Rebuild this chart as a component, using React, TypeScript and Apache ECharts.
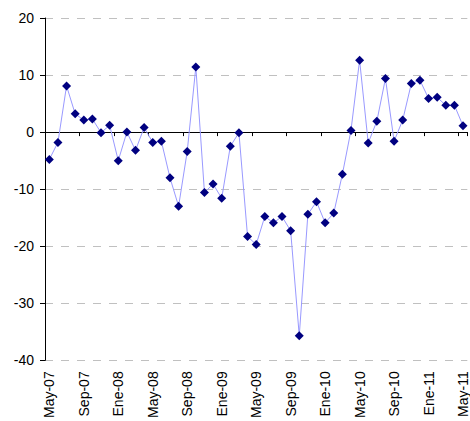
import React, { useEffect, useRef } from "react";
import * as echarts from "echarts";

const years = ["07", "08", "09", "10", "11"];
const monthNames = ["Ene", "Feb", "Mar", "Abr", "May", "Jun", "Jul", "Ago", "Sep", "Oct", "Nov", "Dic"];

// Monthly categories May-07 .. May-11
const categories: string[] = [];
for (let y = 0; y < years.length; y++) {
  for (let m = 0; m < 12; m++) {
    if (y === 0 && m < 4) continue;
    if (y === years.length - 1 && m > 4) continue;
    categories.push(`${monthNames[m]}-${years[y]}`);
  }
}

const values = [
  -4.8, -1.8, 8.1, 3.2, 2.1, 2.3, -0.1, 1.2, -5.0, 0.0, -3.2, 0.8, -1.8,
  -1.6, -8.0, -13.0, -3.4, 11.4, -10.6, -9.1, -11.6, -2.5, -0.1,
  -18.3, -19.7, -14.8, -15.9, -14.8, -17.3, -35.7, -14.4, -12.2, -15.9, -14.2,
  -7.4, 0.3, 12.6, -1.9, 1.9, 9.4, -1.6, 2.1, 8.5, 9.1, 5.9, 6.1, 4.7, 4.7, 1.1,
];

const yMin = -40;
const yMax = 20;
const yStep = 10;

export default function App() {
  const ref = useRef<HTMLDivElement>(null);
  useEffect(() => {
    if (!ref.current) return;
    const chart = echarts.init(ref.current, null, { renderer: "svg" });
    const font = "Arial, 'Liberation Sans', sans-serif";
    chart.setOption({
      animation: false,
      backgroundColor: "#ffffff",
      grid: { left: 45, right: 0, top: 18, bottom: 58.5, containLabel: false },
      xAxis: [
        {
          type: "category",
          data: categories,
          boundaryGap: true,
          position: "bottom",
          axisLine: { show: false, onZero: false },
          axisTick: { show: false },
          splitLine: { show: false },
          axisLabel: {
            interval: 3,
            rotate: 90,
            margin: 11,
            color: "#000000",
            fontSize: 14,
            fontFamily: font,
          },
        },
        {
          type: "category",
          data: categories,
          boundaryGap: true,
          position: "bottom",
          axisLine: { show: true, onZero: true, lineStyle: { color: "#000000", width: 1 } },
          axisTick: { show: true, interval: 3, length: 4, inside: false, lineStyle: { color: "#000000" } },
          axisLabel: { show: false },
          splitLine: { show: false },
        },
      ],
      yAxis: {
        type: "value",
        min: yMin,
        max: yMax,
        interval: yStep,
        axisLine: { show: true, lineStyle: { color: "#000000", width: 1 } },
        axisTick: { show: true, length: 5, lineStyle: { color: "#000000" } },
        axisLabel: { color: "#000000", fontSize: 14, fontFamily: font, margin: 11 },
        splitLine: { show: true, lineStyle: { color: "#c0c0c0", type: [8, 8], width: 1 } },
      },
      series: [
        {
          type: "line",
          xAxisIndex: 0,
          data: values,
          symbol: "diamond",
          symbolSize: 9,
          showAllSymbol: true,
          lineStyle: { color: "#9999ff", width: 1 },
          itemStyle: { color: "#000080" },
        },
      ],
    });
    return () => chart.dispose();
  }, []);
  return (
    <div
      ref={ref}
      style={{ position: "fixed", left: 0, top: 0, width: 470, height: 421 }}
    />
  );
}
